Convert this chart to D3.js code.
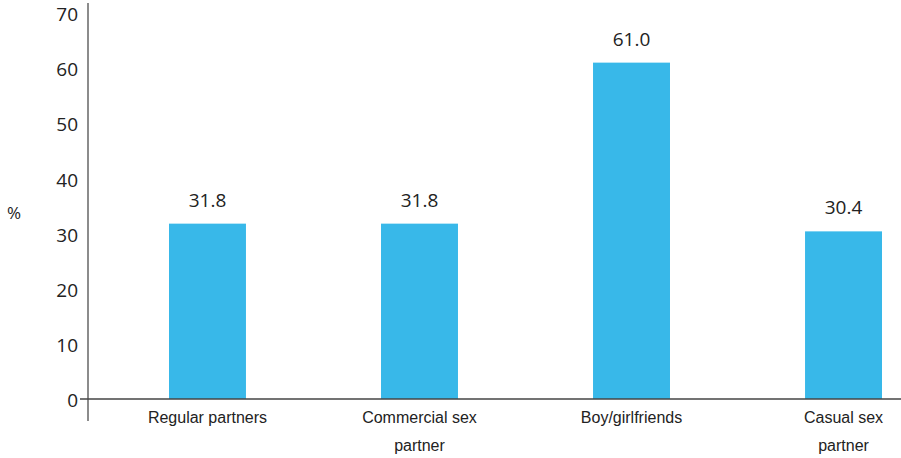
<!DOCTYPE html>
<html><head><meta charset="utf-8">
<script src="https://cdn.jsdelivr.net/npm/d3@7"></script>
<style>body{margin:0;background:#fff}svg{display:block}</style>
</head><body>
<svg id="c" width="901" height="458"></svg>
<script>
const categories = ["Regular partners", "Commercial sex partner", "Boy/girlfriends", "Casual sex partner"];
const categoryLines = [["Regular partners"], ["Commercial sex", "partner"], ["Boy/girlfriends"], ["Casual sex", "partner"]];
const values = [31.8, 31.8, 61.0, 30.4];
const valueLabels = ["31.8", "31.8", "61.0", "30.4"];
const yTicks = [0, 10, 20, 30, 40, 50, 60, 70];
const yTitle = "%";

const svg = d3.select("#c");
const numFont = "'Open Sans', sans-serif";
const catFont = "'Liberation Sans Narrow', 'Arial Narrow', 'Liberation Sans', sans-serif";

const x = d3.scaleBand().domain(categories).range([169, 882]).paddingInner(0.637).paddingOuter(0);
const y = d3.scaleLinear().domain([0, 70]).range([399, 13]);

// bars
svg.selectAll("rect.bar").data(values).join("rect")
  .attr("class", "bar")
  .attr("x", (d, i) => x(categories[i]))
  .attr("width", x.bandwidth())
  .attr("y", d => y(d))
  .attr("height", d => y(0) - y(d))
  .attr("fill", "#38b8e9");

// value labels
svg.selectAll("text.val").data(values).join("text")
  .attr("class", "val")
  .attr("x", (d, i) => x(categories[i]) + x.bandwidth() / 2)
  .attr("y", d => y(d) - 17)
  .attr("text-anchor", "middle")
  .attr("font-family", numFont)
  .attr("font-size", 19)
  .attr("fill", "#222")
  .text((d, i) => valueLabels[i]);

// y axis
const yAxis = d3.axisLeft(y).tickValues(yTicks).tickSize(0).tickPadding(10);
const gy = svg.append("g").attr("transform", "translate(88,0)").call(yAxis);
gy.select(".domain").remove();
gy.selectAll("text").attr("font-family", numFont).attr("font-size", 19).attr("fill", "#222").attr("dy", "0.4em");
svg.append("line").attr("x1", 88).attr("x2", 88).attr("y1", 3).attr("y2", 421)
  .attr("stroke", "#666").attr("stroke-width", 1.5);

// x axis
svg.append("line").attr("x1", 80).attr("x2", 901).attr("y1", y(0)).attr("y2", y(0))
  .attr("stroke", "#444").attr("stroke-width", 1.3);

const xl = svg.selectAll("text.cat").data(categories).join("text")
  .attr("class", "cat")
  .attr("text-anchor", "middle")
  .attr("font-family", catFont)
  .attr("font-size", 16)
  .attr("fill", "#222");
xl.each(function(d, i) {
  const t = d3.select(this);
  categoryLines[i].forEach((ln, j) => {
    t.append("tspan").attr("x", x(d) + x.bandwidth() / 2).attr("y", 423 + j * 28).text(ln);
  });
});

// y title
svg.append("text").attr("x", 14).attr("y", 219).attr("text-anchor", "middle")
  .attr("font-family", numFont).attr("font-size", 17).attr("fill", "#222").text(yTitle);
</script>
</body></html>
